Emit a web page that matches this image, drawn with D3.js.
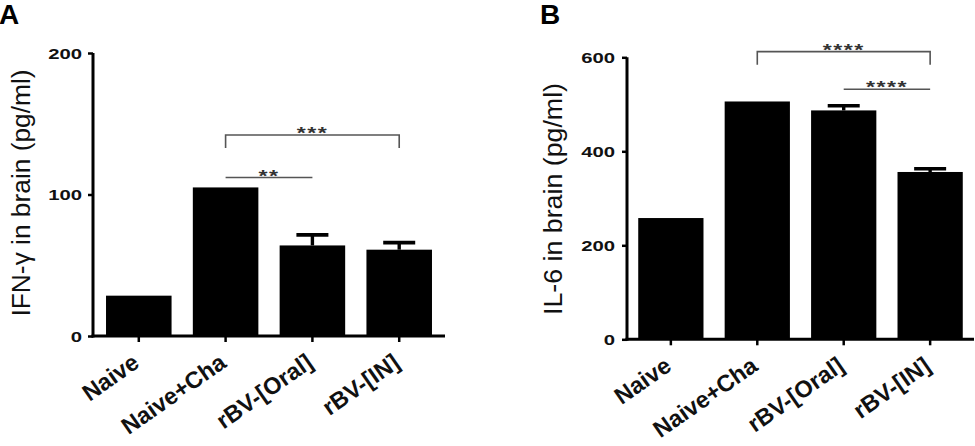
<!DOCTYPE html>
<html>
<head>
<meta charset="utf-8">
<script src="https://cdn.jsdelivr.net/npm/d3@7"></script>
<style>
  html, body { margin: 0; padding: 0; background: #fff; }
  svg { display: block; }
  text { font-family: "Liberation Sans", Arial, sans-serif; }
</style>
</head>
<body>
<svg id="chart" width="975" height="446"></svg>
<script>
// ---- data ----
const categories = ["Naive", "Naive+Cha", "rBV-[Oral]", "rBV-[IN]"];
const ifnMean = [28.5, 105, 64, 61];
const ifnErr  = [0, 0, 7.5, 5];
const il6Mean = [258, 506, 487, 356];
const il6Err  = [0, 0, 10, 7];
const ifnTicks = [0, 100, 200];
const il6Ticks = [0, 200, 400, 600];
const ifnComparisons = [
  { from: 1, to: 3, label: "***", y: 142, bracket: true },
  { from: 1, to: 2, label: "**",  y: 112, bracket: false }
];
const il6Comparisons = [
  { from: 1, to: 3, label: "****", y: 612, bracket: true },
  { from: 2, to: 3, label: "****", y: 532, bracket: false }
];

const svg = d3.select("#chart");
const SX = 1.45; // horizontal stretch of tick digits / stars in the original figure

function panel(cfg) {
  const g = svg.append("g");
  const x = d3.scaleBand().domain(categories)
    .range([cfg.x0, cfg.x1]).paddingInner(0.245).paddingOuter(cfg.po);
  const y = d3.scaleLinear().domain(cfg.domain).range([cfg.yBottom, cfg.yTop]);
  const cx = i => x(categories[i]) + x.bandwidth() / 2;

  // bars
  g.selectAll("rect.bar").data(cfg.mean).join("rect")
    .attr("class", "bar")
    .attr("x", (d, i) => x(categories[i]))
    .attr("width", x.bandwidth())
    .attr("y", d => y(d))
    .attr("height", d => y(0) - y(d))
    .attr("fill", "#000");

  // error bars (only where visible)
  const errData = cfg.mean.map((m, i) => ({ i, m, e: cfg.err[i] })).filter(d => d.e > 0);
  const eb = g.selectAll("g.err").data(errData).join("g").attr("class", "err");
  eb.append("line")
    .attr("x1", d => cx(d.i)).attr("x2", d => cx(d.i))
    .attr("y1", d => y(d.m)).attr("y2", d => y(d.m + d.e))
    .attr("stroke", "#000").attr("stroke-width", 3.4);
  eb.append("line")
    .attr("x1", d => cx(d.i) - 16).attr("x2", d => cx(d.i) + 16)
    .attr("y1", d => y(d.m + d.e)).attr("y2", d => y(d.m + d.e))
    .attr("stroke", "#000").attr("stroke-width", 3.6);

  // y axis
  const ya = g.append("g").attr("transform", `translate(${cfg.x0},0)`)
    .call(d3.axisLeft(y).tickValues(cfg.ticks).tickSize(5).tickSizeOuter(0).tickFormat(d3.format("d")));
  ya.select(".domain").attr("stroke-width", 3).attr("stroke", "#000")
    .attr("d", `M0,${cfg.yTop}V${cfg.yBottom + 1.5}`);
  ya.selectAll(".tick line").attr("stroke-width", 2.5).attr("stroke", "#000");
  ya.selectAll(".tick text")
    .attr("x", 0).attr("dy", "0.36em")
    .attr("transform", `translate(${-cfg.tickGap},0) scale(${SX},1)`)
    .attr("font-size", 14).attr("font-weight", "bold").attr("fill", "#111")
    .attr("font-family", '"Liberation Sans", Arial, sans-serif');

  // x axis
  const xa = g.append("g").attr("transform", `translate(0,${cfg.yBottom})`)
    .call(d3.axisBottom(x).tickSize(6).tickSizeOuter(0).tickFormat(""));
  xa.select(".domain").attr("stroke-width", 3).attr("stroke", "#000")
    .attr("d", `M${cfg.x0 - 1.5},0H${cfg.x1}`);
  xa.selectAll(".tick line").attr("stroke-width", 2.5).attr("stroke", "#000");

  // x labels (rotated)
  g.selectAll("text.xl").data(categories).join("text")
    .attr("class", "xl")
    .attr("transform", (d, i) => `translate(${cx(i) + 2},${cfg.yBottom + 30}) rotate(-35)`)
    .attr("text-anchor", "end")
    .attr("font-size", 23.5).attr("font-weight", "bold").attr("fill", "#111")
    .text(d => d);

  // y label
  g.append("text")
    .attr("transform", `translate(${cfg.ylx},${cfg.yly}) rotate(-90)`)
    .attr("text-anchor", "middle").attr("dy", "0.35em")
    .attr("font-size", 25).attr("fill", "#111")
    .attr("textLength", cfg.ylen).attr("lengthAdjust", "spacingAndGlyphs")
    .text(cfg.ylabel);

  // significance
  cfg.comps.forEach(c => {
    const xa1 = cx(c.from), xa2 = cx(c.to), yy = y(c.y);
    const path = c.bracket
      ? `M${xa1},${yy + 13}V${yy}H${xa2}V${yy + 13}`
      : `M${xa1},${yy}H${xa2}`;
    g.append("path").attr("d", path).attr("fill", "none")
      .attr("stroke", "#555").attr("stroke-width", 1.6);
    g.append("text")
      .attr("transform", `translate(${(xa1 + xa2) / 2},${yy + 4}) scale(${SX},1)`)
      .attr("text-anchor", "middle").attr("font-size", 16).attr("font-weight", "bold")
      .attr("fill", "#333").attr("letter-spacing", 1)
      .text(c.label);
  });

  // panel letter
  svg.append("text").attr("x", cfg.lx).attr("y", 24)
    .attr("font-size", 28).attr("font-weight", "bold").attr("fill", "#000")
    .text(cfg.letter);
}

panel({
  letter: "A", lx: -1,
  x0: 93, x1: 445, po: 0.15,
  yTop: 53, yBottom: 336, domain: [0, 200], ticks: ifnTicks,
  mean: ifnMean, err: ifnErr, comps: ifnComparisons,
  tickGap: 11, ylx: 21, yly: 193, ylen: 247, ylabel: "IFN-γ in brain (pg/ml)"
});
panel({
  letter: "B", lx: 540,
  x0: 627, x1: 974, po: 0.13,
  yTop: 57.3, yBottom: 339.3, domain: [0, 600], ticks: il6Ticks,
  mean: il6Mean, err: il6Err, comps: il6Comparisons,
  tickGap: 12, ylx: 553, yly: 199, ylen: 232, ylabel: "IL-6 in brain (pg/ml)"
});
</script>
</body>
</html>
